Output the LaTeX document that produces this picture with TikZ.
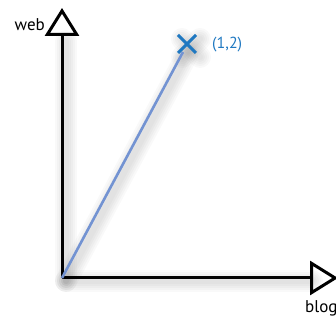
\documentclass[tikz,border=0pt]{standalone}
\usepackage{fontspec}
\setmainfont{PT Sans}
\usetikzlibrary{arrows.meta}
\definecolor{markblue}{HTML}{1F78C1}
\definecolor{vecblue}{HTML}{7393D2}
\tikzset{
  axis/.style={line width=3pt, black, -{Triangle[open, length=28pt, width=34pt, line width=3pt]}},
  shadowline/.style={line width=#1, line cap=round, black, opacity=0.025},
  vec/.style={line width=2.6pt, vecblue},
  xmark/.style={line width=3pt, markblue},
  lbl/.style={font=\fontsize{17}{19}\selectfont, inner sep=0pt}
}
\begin{document}
\begin{tikzpicture}[x=1pt,y=1pt]
\useasboundingbox (0,0) rectangle (336,320);
\coordinate (O) at (62,42);
\coordinate (Y) at (62,312);
\coordinate (X) at (338,42);
\coordinate (P) at (187,276);
\coordinate (Q) at (183,268);
% soft shadows
\foreach \w in {6,10,14,18,22}{
  \draw[shadowline=\w pt] ([shift={(4,-3)}]O) -- ([shift={(4,-3)}]Q);
  \draw[shadowline=\w pt] ([shift={(4,-4)}]P) ++(-9,9) -- ++(18,-18);
  \draw[shadowline=\w pt] ([shift={(4,-4)}]P) ++(-9,-9) -- ++(18,18);
  \draw[shadowline=\w pt] ([shift={(4,-3)}]O) -- ([shift={(4,-3)}]62,282);
  \draw[shadowline=\w pt] ([shift={(4,-3)}]O) -- ([shift={(4,-3)}]308,42);
}
% axes
\draw[axis] (O) -- (Y);
\draw[axis] (O) -- (X);
% vector
\draw[vec] (O) -- (Q);
% cross
\draw[xmark] (P) ++(-9,9) -- ++(18,-18);
\draw[xmark] (P) ++(-9,-9) -- ++(18,18);
% labels
\node[lbl, anchor=east] (web) at (45,295) {web};
\node[lbl, anchor=west] (blog) at (305,12) {blog};
\node[lbl, anchor=west, text=markblue, font=\fontsize{16}{18}\selectfont] (pt) at (212,275) {(1,2)};
\end{tikzpicture}
\end{document}
